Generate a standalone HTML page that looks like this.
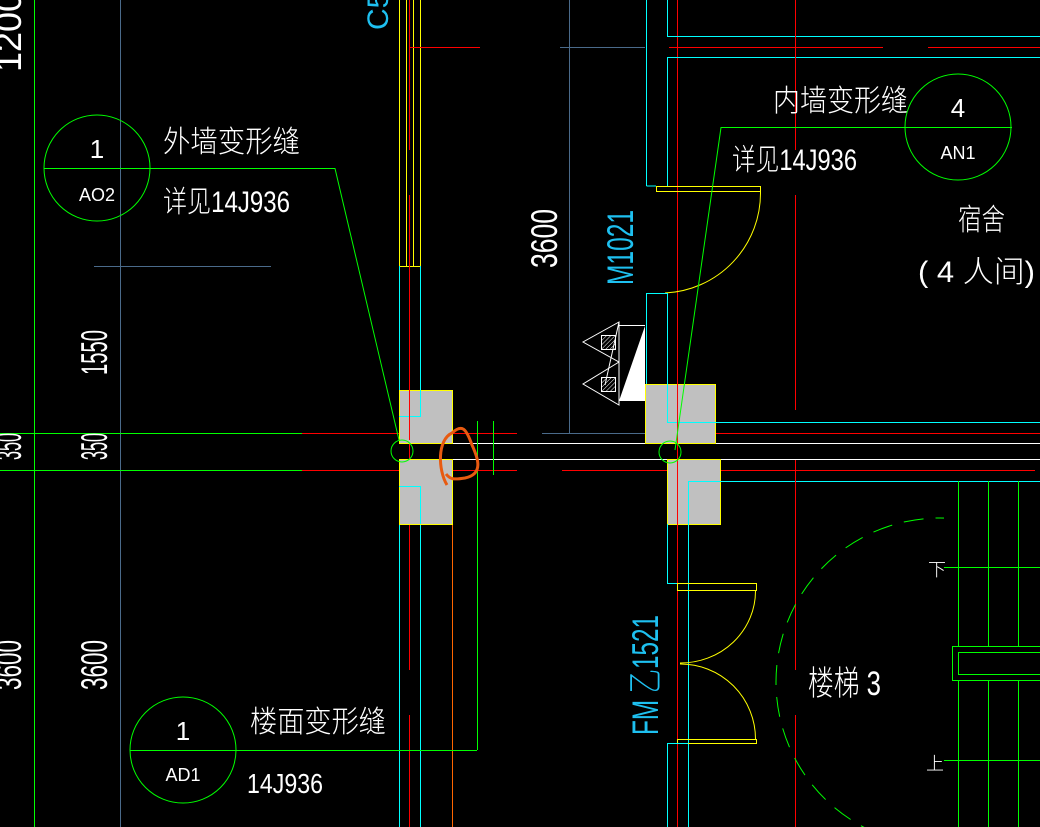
<!DOCTYPE html>
<html><head><meta charset="utf-8"><style>
html,body{margin:0;padding:0;background:#000;}
svg{display:block;}
text{font-family:"Liberation Sans","Noto Sans CJK SC",sans-serif;font-weight:300;}
</style></head><body>
<svg width="1040" height="827" viewBox="0 0 1040 827" xmlns="http://www.w3.org/2000/svg">
<rect width="1040" height="827" fill="#000"/>
<defs>
<pattern id="h" width="3" height="3" patternUnits="userSpaceOnUse" patternTransform="rotate(45)"><line x1="0" y1="0" x2="0" y2="3" stroke="#fff" stroke-width="1"/></pattern>
</defs>
<g fill="none" stroke-width="1">
<line x1="34.5" y1="0" x2="34.5" y2="827" stroke="#0f0"/>
<line x1="120.5" y1="0" x2="120.5" y2="827" stroke="#4a6a8a"/>
<line x1="94" y1="266.5" x2="271" y2="266.5" stroke="#4a6a8a"/>
<line x1="0" y1="433.5" x2="302" y2="433.5" stroke="#0f0"/>
<line x1="0" y1="470.5" x2="302" y2="470.5" stroke="#0f0"/>
<line x1="302" y1="433.5" x2="517" y2="433.5" stroke="#f00"/>
<line x1="302" y1="470.5" x2="517" y2="470.5" stroke="#f00"/>
<line x1="562" y1="470.5" x2="1035" y2="470.5" stroke="#f00"/>
<line x1="542" y1="433.5" x2="645" y2="433.5" stroke="#4a6a8a"/>
<line x1="569.5" y1="0" x2="569.5" y2="433" stroke="#4a6a8a"/>
<line x1="560" y1="47.5" x2="645" y2="47.5" stroke="#4a6a8a"/>
<line x1="715" y1="433.5" x2="1040" y2="433.5" stroke="#f00"/>
<line x1="452" y1="443.5" x2="1040" y2="443.5" stroke="#fff"/>
<line x1="452" y1="459.5" x2="1040" y2="459.5" stroke="#fff"/>
<line x1="399.5" y1="0" x2="399.5" y2="266" stroke="#ff0"/>
<line x1="406.5" y1="0" x2="406.5" y2="266" stroke="#ff0"/>
<line x1="413.5" y1="0" x2="413.5" y2="266" stroke="#ff0"/>
<line x1="420.5" y1="0" x2="420.5" y2="266" stroke="#ff0"/>
<line x1="399" y1="266.5" x2="421" y2="266.5" stroke="#ff0"/>
<line x1="399.5" y1="266" x2="399.5" y2="390" stroke="#0ff"/>
<line x1="420.5" y1="266" x2="420.5" y2="390" stroke="#0ff"/>
<line x1="409.5" y1="0" x2="409.5" y2="150" stroke="#f00"/>
<line x1="409.5" y1="195" x2="409.5" y2="400" stroke="#f00"/>
<line x1="410" y1="47.5" x2="480" y2="47.5" stroke="#f00"/>
<line x1="399.5" y1="524" x2="399.5" y2="827" stroke="#0ff"/>
<line x1="420.5" y1="524" x2="420.5" y2="827" stroke="#0ff"/>
<line x1="409.5" y1="440" x2="409.5" y2="670" stroke="#f00"/>
<line x1="409.5" y1="715" x2="409.5" y2="827" stroke="#f00"/>
<line x1="452.5" y1="524" x2="452.5" y2="827" stroke="#f60"/>
<line x1="477.5" y1="421" x2="477.5" y2="750" stroke="#0f0"/>
<line x1="493.5" y1="421" x2="493.5" y2="475" stroke="#0f0"/>
<line x1="130" y1="750.5" x2="477" y2="750.5" stroke="#0f0"/>
<rect x="399.5" y="390.5" width="53" height="53" fill="#c0c0c0" stroke="#ff0"/>
<rect x="399.5" y="459.5" width="53" height="65" fill="#c0c0c0" stroke="#ff0"/>
<rect x="645.5" y="384.5" width="70" height="59" fill="#c0c0c0" stroke="#ff0"/>
<rect x="667.5" y="459.5" width="53" height="65" fill="#c0c0c0" stroke="#ff0"/>
<polyline points="420.5,390 420.5,416.5 399,416.5" stroke="#0ff"/>
<polyline points="399,486.5 420.5,486.5 420.5,524" stroke="#0ff"/>
<polyline points="667.5,384 667.5,422.5 1040,422.5" stroke="#0ff"/>
<polyline points="1040,481.5 688.5,481.5 688.5,827" stroke="#0ff"/>
<line x1="409.5" y1="390" x2="409.5" y2="440" stroke="#f00"/>
<line x1="677.5" y1="0" x2="677.5" y2="827" stroke="#f00"/>
<line x1="646.5" y1="0" x2="646.5" y2="186" stroke="#0ff"/>
<polyline points="667.5,186 667.5,57.5 1040,57.5" stroke="#0ff"/>
<line x1="667" y1="36.5" x2="1040" y2="36.5" stroke="#0ff"/>
<line x1="667.5" y1="0" x2="667.5" y2="36" stroke="#0ff"/>
<line x1="669" y1="47.5" x2="883" y2="47.5" stroke="#f00"/>
<line x1="928" y1="47.5" x2="1040" y2="47.5" stroke="#f00"/>
<line x1="795.5" y1="0" x2="795.5" y2="150" stroke="#f00"/>
<line x1="795.5" y1="195" x2="795.5" y2="410" stroke="#f00"/>
<line x1="795.5" y1="460" x2="795.5" y2="670" stroke="#f00"/>
<line x1="795.5" y1="715" x2="795.5" y2="827" stroke="#f00"/>
<polyline points="646.5,186 656,186" stroke="#0ff"/>
<rect x="656.5" y="186.5" width="104" height="5" stroke="#ff0"/>
<path d="M760.5,192 A100,100 0 0 1 665,293" stroke="#ff0"/>
<polyline points="646.5,384 646.5,293.5 667.5,293.5 667.5,384" stroke="#0ff"/>
<polyline points="667.5,524 667.5,583.5 688,583.5" stroke="#0ff"/>
<rect x="677.5" y="583.5" width="79" height="7" stroke="#ff0"/>
<path d="M755.5,591 A75,72 0 0 1 680,663" stroke="#ff0"/>
<path d="M680,664 A75,75 0 0 1 755.5,739" stroke="#ff0"/>
<rect x="677.5" y="739.5" width="79" height="4" stroke="#ff0"/>
<polyline points="667.5,827 667.5,743.5 688,743.5" stroke="#0ff"/>
<circle cx="940" cy="682" r="164" stroke="#0f0" stroke-dasharray="20,12"/>
<rect x="944" y="482" width="100" height="350" fill="#000" stroke="none"/>
<line x1="958.5" y1="481" x2="958.5" y2="827" stroke="#0f0"/>
<line x1="988.5" y1="481" x2="988.5" y2="827" stroke="#0f0"/>
<line x1="1018.5" y1="481" x2="1018.5" y2="827" stroke="#0f0"/>
<line x1="944" y1="567.5" x2="1040" y2="567.5" stroke="#0f0"/>
<line x1="944" y1="760.5" x2="1040" y2="760.5" stroke="#0f0"/>
<rect x="952.5" y="646.5" width="100" height="34" fill="#000" stroke="#0f0"/>
<rect x="958.5" y="652.5" width="100" height="22" stroke="#0f0"/>
<circle cx="97" cy="168" r="53" stroke="#0f0"/>
<polyline points="44,168.5 335,168.5 399,440" stroke="#0f0"/>
<circle cx="958" cy="127" r="53" stroke="#0f0"/>
<polyline points="1012,127.5 721,127.5 675,450" stroke="#0f0"/>
<circle cx="183" cy="750" r="53" stroke="#0f0"/>
<circle cx="402" cy="451" r="11" stroke="#0f0"/>
<circle cx="670" cy="452" r="11" stroke="#0f0"/>
<polygon points="619,401 645,326 645,401" fill="#fff"/>
<line x1="619" y1="325.5" x2="645" y2="325.5" stroke="#fff"/>
<polygon points="619,322 583,342 619,362" stroke="#fff"/>
<polygon points="619,362 583,384 619,405" stroke="#fff"/>
<line x1="619" y1="322" x2="605" y2="385" stroke="#fff"/>
<rect x="601.5" y="335.5" width="14" height="14" fill="url(#h)" stroke="#fff"/>
<rect x="601.5" y="377.5" width="14" height="14" fill="url(#h)" stroke="#fff"/>
<path d="M447,485 C438,470 437,440 452,433 C462,424 466,428 472,445 C478,458 484,474 465,478 C453,480 450,479 446,474" stroke="#e85a10" stroke-width="3"/>
</g>
<g fill="#fff" font-size="30">
<text x="163" y="152" textLength="137" lengthAdjust="spacingAndGlyphs">外墙变形缝</text>
<text x="163" y="212" textLength="127" lengthAdjust="spacingAndGlyphs">详见14J936</text>
<text x="773" y="111" textLength="135" lengthAdjust="spacingAndGlyphs">内墙变形缝</text>
<text x="732" y="170" textLength="125" lengthAdjust="spacingAndGlyphs">详见14J936</text>
<text x="250" y="732" textLength="136" lengthAdjust="spacingAndGlyphs">楼面变形缝</text>
<text x="247" y="793" font-size="28" textLength="76" lengthAdjust="spacingAndGlyphs">14J936</text>
<text x="958" y="230" textLength="47" lengthAdjust="spacingAndGlyphs">宿舍</text>
<text x="918" y="282" textLength="117" lengthAdjust="spacingAndGlyphs">(  4 人间)</text>
<text x="808" y="695" font-size="34" textLength="73" lengthAdjust="spacingAndGlyphs">楼梯 3</text>
<text x="928" y="576" font-size="18">下</text>
<text x="926" y="770" font-size="18">上</text>
<text x="97" y="158" font-size="26" text-anchor="middle">1</text>
<text x="97" y="201" font-size="18" text-anchor="middle">AO2</text>
<text x="958" y="117" font-size="26" text-anchor="middle">4</text>
<text x="958" y="159" font-size="18" text-anchor="middle">AN1</text>
<text x="183" y="740" font-size="26" text-anchor="middle">1</text>
<text x="183" y="781" font-size="18" text-anchor="middle">AD1</text>
<g font-size="37">
<text transform="translate(107,375) rotate(-90)" textLength="45" lengthAdjust="spacingAndGlyphs">1550</text>
<text transform="translate(107,460) rotate(-90)" textLength="27" lengthAdjust="spacingAndGlyphs">350</text>
<text transform="translate(107,690) rotate(-90)" textLength="50" lengthAdjust="spacingAndGlyphs">3600</text>
<text transform="translate(21,460) rotate(-90)" textLength="27" lengthAdjust="spacingAndGlyphs">350</text>
<text transform="translate(21,690) rotate(-90)" textLength="50" lengthAdjust="spacingAndGlyphs">3600</text>
<text transform="translate(21,72) rotate(-90)" textLength="80" lengthAdjust="spacingAndGlyphs">1200</text>
<text transform="translate(557,268) rotate(-90)" textLength="59" lengthAdjust="spacingAndGlyphs">3600</text>
<text fill="#1ec0f0" transform="translate(633,285) rotate(-90)" textLength="75" lengthAdjust="spacingAndGlyphs">M1021</text>
<text fill="#1ec0f0" transform="translate(658,735) rotate(-90)" textLength="120" lengthAdjust="spacingAndGlyphs">FM 乙1521</text>
<text fill="#1ec0f0" transform="translate(388,30) rotate(-90)" font-size="30">C5</text>
</g>
</g>
</svg>
</body></html>
